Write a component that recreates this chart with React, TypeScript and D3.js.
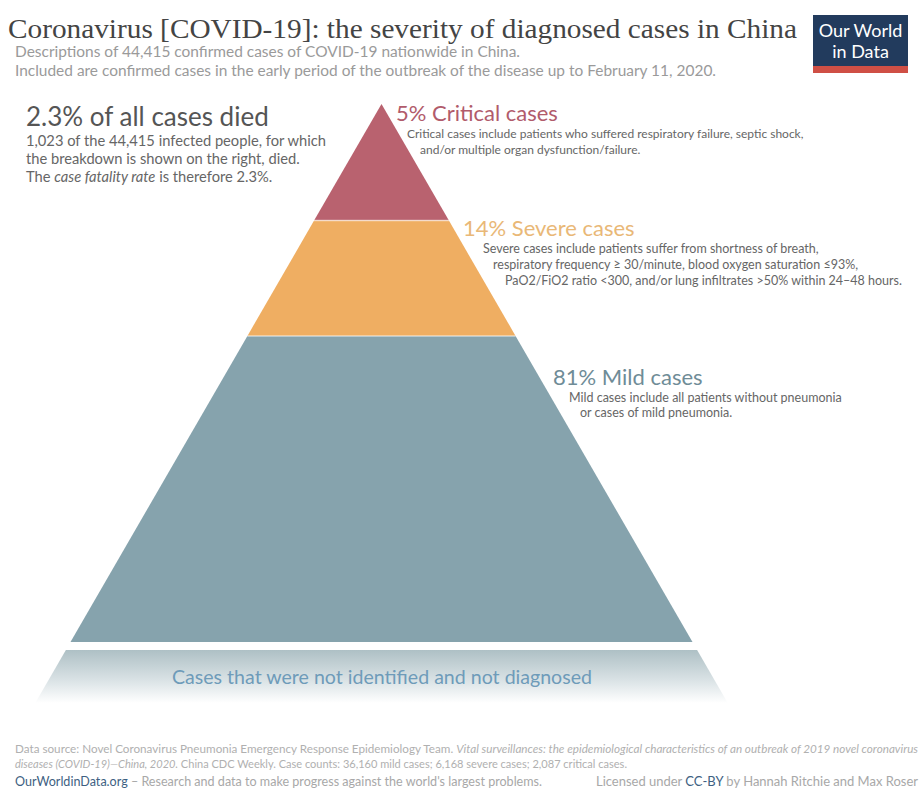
import React from "react";
import * as d3 from "d3";

const categories = ["Critical", "Severe", "Mild"];
const caseCounts = [2087, 6168, 36160];
const bandColors = ["#B9626F", "#EFAE62", "#86A3AD"];
const labelColors = ["#B15B6B", "#E9B877", "#6F8C97"];
const headings = ["5% Critical cases", "14% Severe cases", "81% Mild cases"];
const descriptions = [
  ["Critical cases include patients who suffered respiratory failure, septic shock,", "and/or multiple organ dysfunction/failure."],
  ["Severe cases include patients suffer from shortness of breath,", "respiratory frequency \u2265 30/minute, blood oxygen saturation \u226493%,", "PaO2/FiO2 ratio <300, and/or lung infiltrates >50% within 24\u201348 hours."],
  ["Mild cases include all patients without pneumonia", "or cases of mild pneumonia."],
];

const W = 924;
const H = 800;
const apexX = 381.5;
const apexY = 104;
const baseY = 642;
const baseHalf = 311;

export default function App() {
  const total = d3.sum(caseCounts);
  const cum = d3.cumsum(caseCounts);
  const yScale = d3.scaleSqrt().domain([0, total]).range([apexY, baseY]);
  const halfW = d3.scaleLinear().domain([apexY, baseY]).range([0, baseHalf]);

  const bands = caseCounts.map((c, i) => {
    const y0 = yScale(i === 0 ? 0 : cum[i - 1]);
    const y1 = yScale(cum[i]);
    const pts: [number, number][] = [
      [apexX - halfW(y0), y0],
      [apexX + halfW(y0), y0],
      [apexX + halfW(y1), y1],
      [apexX - halfW(y1), y1],
    ];
    return { y0, y1, path: d3.line()(pts) + "Z" };
  });

  const gy0 = 650;
  const gy1 = 703;
  const hiddenPts: [number, number][] = [
    [apexX - halfW(gy0), gy0],
    [apexX + halfW(gy0), gy0],
    [apexX + halfW(gy1), gy1],
    [apexX - halfW(gy1), gy1],
  ];
  const hiddenPath = d3.line()(hiddenPts) + "Z";

  const headPos = [
    { x: 396, y: 121, fs: 12, dx: [407, 420], dy: [138, 154] },
    { x: 463, y: 236, fs: 12.5, dx: [483, 493, 505], dy: [253, 269, 285] },
    { x: 553, y: 385, fs: 12.5, dx: [569, 580], dy: [402, 417] },
  ];

  const sans = "Lato, 'Noto Sans', sans-serif";

  return (
    <svg width={W} height={H} style={{ position: "absolute", left: 0, top: 0, background: "#fff" }} fontFamily={sans}>
      <defs>
        <linearGradient id="hiddenGrad" x1="0" y1="0" x2="0" y2="1">
          <stop offset="0" stopColor="#AEC0C5" />
          <stop offset="0.55" stopColor="#D8E1E4" />
          <stop offset="1" stopColor="#FFFFFF" />
        </linearGradient>
      </defs>

      {/* Title */}
      <text x={8} y={38} fontFamily="'Liberation Serif', 'DejaVu Serif', serif" fontSize={28} fill="#444" textLength={789} lengthAdjust="spacingAndGlyphs">
        Coronavirus [COVID-19]: the severity of diagnosed cases in China
      </text>
      <text x={15} y={57} fontSize={14.5} fill="#9a9a9a" textLength={505} lengthAdjust="spacingAndGlyphs">
        Descriptions of 44,415 confirmed cases of COVID-19 nationwide in China.
      </text>
      <text x={15} y={76} fontSize={14.5} fill="#9a9a9a" textLength={701} lengthAdjust="spacingAndGlyphs">
        Included are confirmed cases in the early period of the outbreak of the disease up to February 11, 2020.
      </text>

      {/* Logo */}
      <rect x={813} y={15} width={95} height={58} fill="#223B5D" />
      <rect x={813} y={66} width={95} height={7} fill="#CF4F45" />
      <text x={860.5} y={37} textAnchor="middle" fontSize={18} fill="#fff">Our World</text>
      <text x={860.5} y={58} textAnchor="middle" fontSize={18} fill="#fff">in Data</text>

      {/* Left annotation */}
      <text x={26} y={126} fontSize={26} fill="#555">2.3% of all cases died</text>
      <text x={26} y={146} fontSize={14.7} fill="#666">1,023 of the 44,415 infected people, for which</text>
      <text x={26} y={164} fontSize={14.7} fill="#666">the breakdown is shown on the right, died.</text>
      <text x={26} y={182} fontSize={14.7} fill="#666">
        The <tspan fontStyle="italic">case fatality rate</tspan> is therefore 2.3%.
      </text>

      {/* Pyramid */}
      {bands.map((b, i) => (
        <path key={categories[i]} d={b.path} fill={bandColors[i]} />
      ))}
      {bands.slice(1).map((b, i) => (
        <line key={"sep" + i} x1={apexX - halfW(b.y0)} x2={apexX + halfW(b.y0)} y1={b.y0} y2={b.y0} stroke="#fff" strokeOpacity={0.55} strokeWidth={1.5} />
      ))}

      {/* Hidden cases band */}
      <path d={hiddenPath} fill="url(#hiddenGrad)" />
      <text x={382} y={684} textAnchor="middle" fontSize={19} fill="#6E9BB9" textLength={420} lengthAdjust="spacingAndGlyphs">
        Cases that were not identified and not diagnosed
      </text>

      {/* Band labels */}
      {headings.map((h, i) => (
        <g key={"lab" + i}>
          <text x={headPos[i].x} y={headPos[i].y} fontSize={22} fill={labelColors[i]}>{h}</text>
          {descriptions[i].map((d, j) => (
            <text key={j} x={headPos[i].dx[j]} y={headPos[i].dy[j]} fontSize={headPos[i].fs} fill="#666">{d}</text>
          ))}
        </g>
      ))}

      {/* Footer */}
      <text x={15} y={753} fontSize={10.5} fill="#b0b0b0" textLength={903} lengthAdjust="spacingAndGlyphs">
        Data source: Novel Coronavirus Pneumonia Emergency Response Epidemiology Team.{" "}
        <tspan fontStyle="italic">Vital surveillances: the epidemiological characteristics of an outbreak of 2019 novel coronavirus</tspan>
      </text>
      <text x={15} y={768} fontSize={10.5} fill="#b0b0b0" textLength={612} lengthAdjust="spacingAndGlyphs">
        <tspan fontStyle="italic">{"diseases (COVID-19)\u2014China, 2020."}</tspan>{" China CDC Weekly. Case counts: 36,160 mild cases; 6,168 severe cases; 2,087 critical cases."}
      </text>
      <text x={15} y={786} fontSize={12.5} fill="#a8a8a8" textLength={527} lengthAdjust="spacingAndGlyphs">
        <tspan fill="#3E5F82">OurWorldinData.org</tspan>{" \u2013 Research and data to make progress against the world's largest problems."}
      </text>
      <text x={918} y={786} fontSize={12.5} fill="#a8a8a8" textAnchor="end" textLength={322} lengthAdjust="spacingAndGlyphs">
        Licensed under <tspan fill="#3E5F82">CC-BY</tspan> by Hannah Ritchie and Max Roser
      </text>
    </svg>
  );
}
